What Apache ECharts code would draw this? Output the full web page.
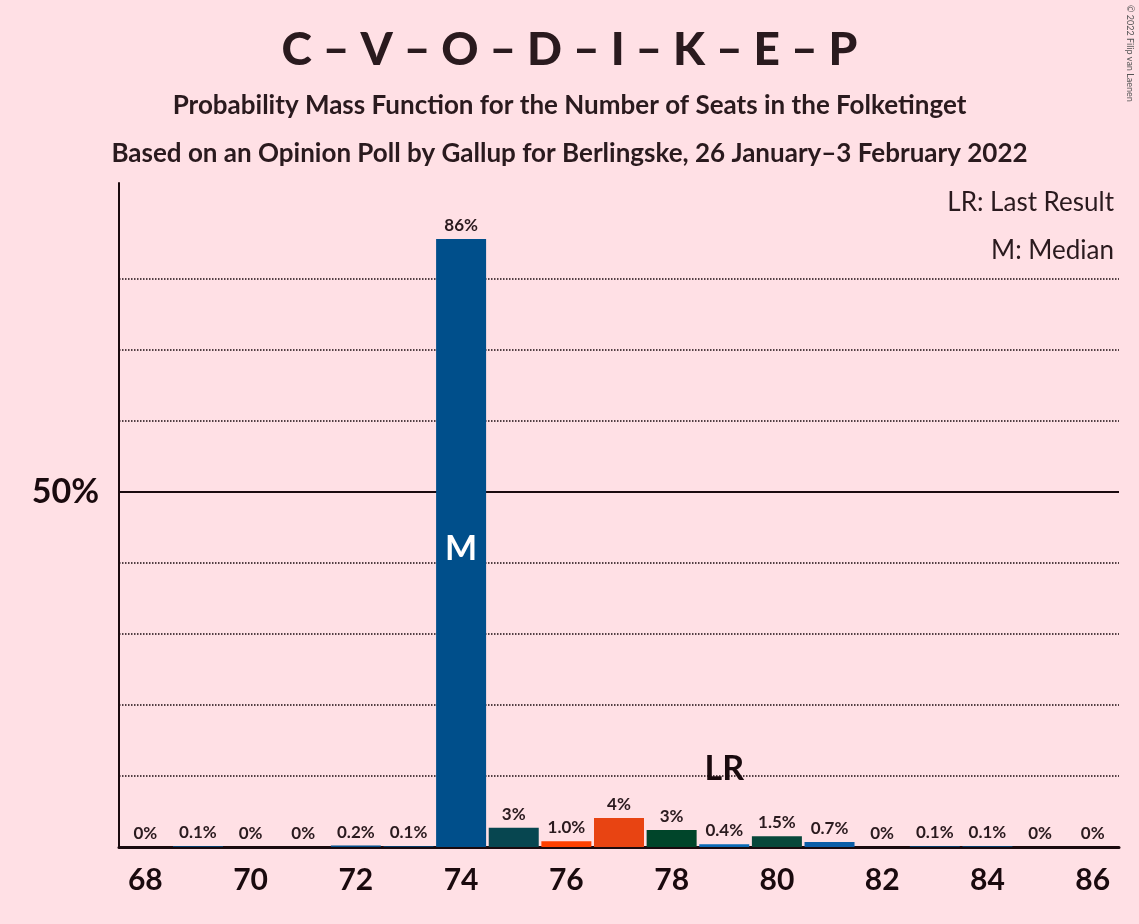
<!DOCTYPE html>
<html><head><meta charset="utf-8">
<script src="https://cdn.jsdelivr.net/npm/echarts@6/dist/echarts.min.js"></script>
<style>html,body{margin:0;background:#ffe0e5}#main{width:1139px;height:924px}</style>
</head><body><div id="main"></div>
<script>
const seats = [68,69,70,71,72,73,74,75,76,77,78,79,80,81,82,83,84,85,86];
const probs = [0,0.1,0,0,0.2,0.1,85.6,2.7,0.8,4.1,2.4,0.4,1.5,0.7,0,0.1,0.1,0,0];
const labels = ['0%','0.1%','0%','0%','0.2%','0.1%','86%','3%','1.0%','4%','3%','0.4%','1.5%','0.7%','0%','0.1%','0.1%','0%','0%'];
const colors = ['#004f8b','#004f8b','#004f8b','#004f8b','#004f8b','#004f8b','#004f8b','#074650','#ff4000','#e84412','#00452a','#0a6ab5','#07473a','#0b5ea8','#004f8b','#004f8b','#004f8b','#004f8b','#004f8b'];
const gridValues = [10,20,30,40,60,70,80];
const medianSeat = 74, lastResult = 79;

const chart = echarts.init(document.getElementById('main'));
const font = 'Lato, "Open Sans", sans-serif';
chart.setOption({
  backgroundColor:'#ffe0e5',
  textStyle:{fontFamily:font},
  title:[
    {text:'C – V – O – D – I – K – E – P',left:'center',top:22,textStyle:{fontSize:46,fontWeight:900,color:'#2a1a1e',fontFamily:font}},
    {text:'Probability Mass Function for the Number of Seats in the Folketinget',left:'center',top:88,textStyle:{fontSize:26,fontWeight:'bold',color:'#2a1a1e',fontFamily:font}},
    {text:'Based on an Opinion Poll by Gallup for Berlingske, 26 January–3 February 2022',left:'center',top:136,textStyle:{fontSize:26,fontWeight:'bold',color:'#2a1a1e',fontFamily:font}},
    {text:'LR: Last Result',right:20,top:185,textStyle:{fontSize:26,fontWeight:'normal',color:'#2a1a1e',fontFamily:font}},
    {text:'M: Median',right:20,top:233,textStyle:{fontSize:26,fontWeight:'normal',color:'#2a1a1e',fontFamily:font}}
  ],
  graphic:[{type:'text',right:5,top:5,rotation:-Math.PI/2,
    style:{text:'© 2022 Filip van Laenen',fontSize:9,fill:'#555',fontFamily:font},x:1128,y:5}],
  grid:{left:119,right:20,top:183,bottom:77},
  xAxis:{type:'category',data:seats,axisTick:{show:false},
    axisLine:{lineStyle:{color:'#1a0a0e',width:3}},
    axisLabel:{fontSize:30,fontWeight:'bold',color:'#1a0a0e',margin:18,interval:0,formatter:v=>(v%2===0?v:'')}},
  yAxis:{type:'value',min:0,max:93.5,interval:10,
    axisLine:{show:true,lineStyle:{color:'#1a0a0e',width:2}},axisTick:{show:false},
    axisLabel:{fontSize:34,fontWeight:'bold',color:'#1a0a0e',margin:20,formatter:v=>v===50?'50%':''},
    splitLine:{show:false}},
  series:[{type:'bar',barCategoryGap:'5%',
    data:probs.map((v,i)=>({value:v,itemStyle:{color:colors[i]}})),
    label:{show:true,position:'top',fontSize:17,fontWeight:'bold',color:'#2a1a1e',formatter:p=>labels[p.dataIndex]},
    markLine:{silent:true,symbol:'none',label:{show:false},z:0,
      data:[{yAxis:50,lineStyle:{type:'solid',color:'#1a0a0e',width:2}}]
        .concat(gridValues.map(v=>({yAxis:v,lineStyle:{type:'dotted',color:'#1a0a0e',width:1.5}})))},
    markPoint:{symbol:'rect',symbolSize:1,itemStyle:{color:'transparent'},data:[
      {coord:[String(medianSeat),42],label:{show:true,formatter:'M',fontSize:34,fontWeight:'bold',color:'#fff'}},
      {coord:[String(lastResult),11],label:{show:true,formatter:'LR',fontSize:34,fontWeight:'bold',color:'#1a0a0e'}}
    ]}
  }]
});
</script></body></html>
